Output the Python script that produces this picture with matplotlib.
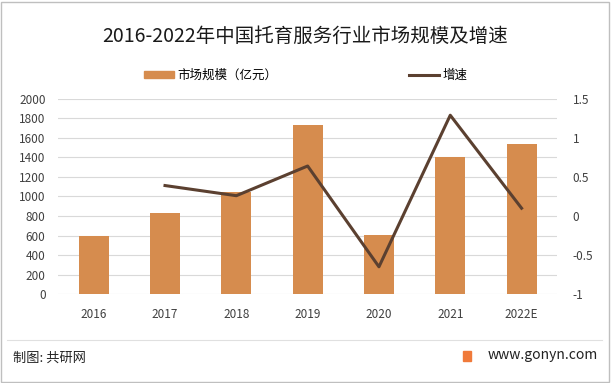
import numpy as np
import matplotlib.pyplot as plt
from matplotlib.patches import Rectangle
from matplotlib.lines import Line2D

plt.rcParams['font.family'] = ['Noto Sans CJK SC', 'DejaVu Sans']

years = ['2016', '2017', '2018', '2019', '2020', '2021', '2022E']
market_size = [600, 835, 1050, 1730, 610, 1400, 1535]
growth_years = ['2017', '2018', '2019', '2020', '2021', '2022E']
growth = [0.39, 0.26, 0.64, -0.65, 1.29, 0.10]

bar_color = '#D68C4E'
line_color = '#5B4030'

fig = plt.figure(figsize=(6.11, 3.83), dpi=100)
ax = fig.add_axes([0.095, 0.232, 0.817, 0.51])
ax2 = ax.twinx()

x = np.arange(len(years))
ax.bar(x, market_size, width=0.42, color=bar_color, zorder=2)
gx = [years.index(y) for y in growth_years]
ax2.plot(gx, growth, color=line_color, linewidth=2.2, zorder=3)

ax.set_xlim(-0.5, len(years) - 0.5)
ax.set_ylim(0, 2000)
ax.set_yticks(np.arange(0, 2001, 200))
ax2.set_ylim(-1, 1.5)
ax2.set_yticks([-1, -0.5, 0, 0.5, 1, 1.5])
ax2.set_yticklabels(['-1', '-0.5', '0', '0.5', '1', '1.5'])
ax.set_xticks(x)
ax.set_xticklabels(years)

ax.grid(axis='y', color='#D9D9D9', linewidth=0.8, zorder=0)
ax.set_axisbelow(True)
for a in (ax, ax2):
    for s in a.spines.values():
        s.set_visible(False)
    a.tick_params(length=0, labelsize=8.5, colors='#404040')
ax.tick_params(axis='y', pad=9)
ax2.tick_params(axis='y', pad=11)
ax.tick_params(axis='x', pad=10)

fig.text(0.5, 0.905, '2016-2022年中国托育服务行业市场规模及增速', ha='center', va='center',
         fontsize=14, color='#1a1a1a')

# legend
handles = [Rectangle((0, 0), 1, 1, color=bar_color),
           Line2D([0], [0], color=line_color, linewidth=2.2)]
fig.legend(handles, ['市场规模（亿元）', '增速'], loc='center', bbox_to_anchor=(0.5, 0.803),
           ncol=2, frameon=False, fontsize=9, handlelength=2.4, handleheight=0.5,
           columnspacing=10.5, handletextpad=0.3)

# footer
fig.add_artist(Line2D([0.012, 0.985], [0.112, 0.112], color='#E0E0E0', linewidth=0.8))
fig.text(0.022, 0.065, '制图: 共研网', ha='left', va='center', fontsize=9.5, color='#222222')
fig.text(0.978, 0.072, 'www.gonyn.com', ha='right', va='center', fontsize=10, color='#222222')
fig.add_artist(Rectangle((0.758, 0.057), 0.013, 0.026, color='#F07A3A', transform=fig.transFigure))

# outer frame
fig.add_artist(Rectangle((0.002, 0.003), 0.994, 0.993, fill=False, edgecolor='#BFBFBF',
                         linewidth=1, transform=fig.transFigure))

fig.savefig('out.png', dpi=100)
